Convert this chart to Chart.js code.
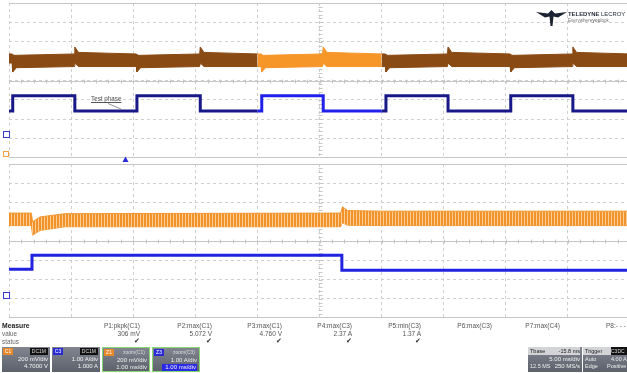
<!DOCTYPE html>
<html>
<head>
<meta charset="utf-8">
<script src="https://cdn.jsdelivr.net/npm/chart.js@4.4.1/dist/chart.umd.min.js"></script>
<style>
    html, body { margin: 0; padding: 0; overflow: hidden; background: #fff; }
    body { width: 627px; height: 373px; position: relative; font-family: "Liberation Sans", Arial, sans-serif; }
    .pane { position: absolute; left: 9px; width: 621px; }
    .abs { position: absolute; white-space: nowrap; }
    .mlabel { font-size: 6.5px; color: #555; text-align: right; }
    .chbox { position: absolute; top: 347px; height: 25px; width: 48px; background: linear-gradient(#80858f, #5c616b); box-sizing: border-box; }
    .chbox.sel { border: 1px solid #86d873; }
    .badge { position: absolute; left: 1px; top: 1px; width: 10px; height: 7px; font-size: 5px; color: #fff; line-height: 7px; text-align: center; }
    .hdr { position: absolute; right: 2px; top: 1px; height: 7px; padding: 0 2px; font-size: 5px; line-height: 7px; color: #ddd; }
    .row { position: absolute; right: 2px; font-size: 6px; color: #f2f2f2; line-height: 7px; }
</style>
</head>
<body>

<div class="pane" style="top:3px;height:155px"><canvas id="topChart" width="621" height="155"></canvas></div>
<div class="pane" style="top:164px;height:154px"><canvas id="zoomChart" width="621" height="154"></canvas></div>

<!-- logo -->
<svg class="abs" style="left:536px;top:10px" width="31" height="16" viewBox="0 0 31 16">
    <polygon points="0,2 12,3.5 15.5,0 19,3.5 31,2 22,7.5 17.5,6.5 16.5,16 14.5,16 13.5,6.5 9,7.5" fill="#1c2433"/>
</svg>
<div class="abs" style="left:568px;top:11px;font-size:5.9px;font-weight:bold;color:#1c2433">TELEDYNE <span style="font-weight:normal">LECROY</span></div>
<div class="abs" style="left:568px;top:18px;font-size:4.6px;color:#777">Everywhere<b>you</b>look</div>

<!-- trace annotation -->
<div class="abs" style="left:91px;top:95px;font-size:6.3px;color:#555;text-decoration:underline">Test phase</div>
<svg class="abs" style="left:0;top:0" width="627" height="373">
    <line x1="108" y1="103.5" x2="121" y2="109" stroke="#777" stroke-width="0.8"/>
    <!-- channel offset markers and trigger marker -->
    <rect x="3.5" y="131.5" width="6" height="6" fill="#fff" stroke="#3a3ad0" stroke-width="1"/>
    <rect x="3.5" y="151.5" width="5" height="5" fill="#fff" stroke="#f0a040" stroke-width="1"/>
    <rect x="3.5" y="292.5" width="6" height="6" fill="#fff" stroke="#3a3ad0" stroke-width="1"/>
    <polygon points="122.5,162 125.5,156.5 128.5,162" fill="#2a2ad8"/>
</svg>

<div id="measure"></div>

<script>
// ---- timebase grid: 10 x 8 divisions, values in divisions ----
const divsX = 10;
const divsY = 4;

// main acquisition, C1 (upper) ripple envelope, in divisions
const topX    = [0, 0.05, 0.06, 0.12, 1.05, 1.06, 1.12, 2.05, 2.06, 2.12, 3.07, 3.08, 3.14, 4.0, 4.06, 4.07, 4.13, 5.05, 5.06, 5.12, 6.0, 6.06, 6.07, 6.13, 7.06, 7.07, 7.13, 8.07, 8.08, 8.14, 9.07, 9.08, 9.14, 10];
const c1TopHi = [1.37, 1.37, 1.3, 1.3, 1.37, 1.73, 1.45, 1.37, 1.3, 1.3, 1.37, 1.73, 1.45, 1.37, 1.37, 1.3, 1.3, 1.37, 1.73, 1.45, 1.37, 1.37, 1.3, 1.3, 1.37, 1.73, 1.45, 1.37, 1.3, 1.3, 1.37, 1.73, 1.45, 1.37];
const c1TopLo = [0.9, 0.9, 0.44, 0.66, 0.72, 0.9, 0.72, 0.72, 0.44, 0.66, 0.72, 0.9, 0.72, 0.72, 0.72, 0.44, 0.66, 0.72, 0.9, 0.72, 0.72, 0.72, 0.44, 0.66, 0.72, 0.9, 0.72, 0.72, 0.44, 0.66, 0.72, 0.9, 0.72, 0.72];

// main acquisition, C3 current step
const c3TopX = [0, 0.06, 1.06, 2.06, 3.08, 4.0, 4.07, 5.06, 6.0, 6.07, 7.07, 8.08, 9.08, 10];
const c3TopY = [-1.57, -0.79, -1.57, -0.79, -1.57, -1.57, -0.79, -1.57, -1.57, -0.79, -1.57, -0.79, -1.57, -1.57];

// span of the main trace shown in the zoom pane
const zoomSpan = [4.0, 6.0];

// zoom pane: Z1 ripple envelope and Z3 step
const zoomX   = [0, 0.36, 0.38, 0.5, 0.9, 5.34, 5.37, 5.45, 6, 10];
const z1Hi    = [1.45, 1.45, 1.0, 1.25, 1.42, 1.45, 1.78, 1.58, 1.55, 1.55];
const z1Lo    = [0.8, 0.8, 0.3, 0.55, 0.74, 0.74, 0.95, 0.82, 0.8, 0.8];
const z3X     = [0, 0.37, 5.36, 10];
const z3Y     = [-1.47, -0.74, -1.52, -1.52];

// measurement table
const measureNames  = ['P1:pkpk(C1)', 'P2:max(C1)', 'P3:max(C1)', 'P4:max(C3)', 'P5:min(C3)', 'P6:max(C3)', 'P7:max(C4)'];
const measureValues = ['306 mV', '5.072 V', '4.760 V', '2.37 A', '1.37 A', '', ''];
const measureRight  = [140, 212, 282, 352, 421, 492, 560];

const BROWN = 'rgb(138,74,20)';
const ORANGE = 'rgb(246,150,40)';
const NAVY = 'rgb(24,24,135)';
const BLUE = 'rgb(32,32,235)';

function pts(xs, ys, from = 0, to = divsX) {
    return xs.map((x, i) => ({ x: x, y: ys[i] })).filter(p => p.x >= from && p.x <= to);
}

function ripplePattern() {
    const c = document.createElement('canvas');
    c.width = 3; c.height = 4;
    const g = c.getContext('2d');
    g.fillStyle = 'rgb(251,206,150)';
    g.fillRect(0, 0, 3, 4);
    g.fillStyle = 'rgb(241,146,42)';
    g.fillRect(0, 0, 2, 4);
    return g.createPattern(c, 'repeat');
}

function band(data, color, fill) {
    return {
        data: data,
        borderColor: color,
        backgroundColor: fill || color,
        borderWidth: 1,
        pointRadius: 0,
        tension: 0
    };
}

// centre lines with fine ticks and solid pane frame
const scopeGrid = {
    id: 'scopeGrid',
    beforeDatasetsDraw(chart) {
        const { ctx, chartArea: a, scales: { x, y } } = chart;
        const seg = (x1, y1, x2, y2) => { ctx.beginPath(); ctx.moveTo(x1, y1); ctx.lineTo(x2, y2); ctx.stroke(); };
        ctx.save();
        ctx.strokeStyle = '#c6c6c6';
        ctx.lineWidth = 1;
        const y0 = Math.round(y.getPixelForValue(0)) + 0.5;
        const x0 = Math.round(x.getPixelForValue(divsX / 2)) + 0.5;
        seg(a.left, y0, a.right, y0);
        seg(a.left, a.top + 0.5, a.right, a.top + 0.5);
        seg(a.left, a.bottom - 0.5, a.right, a.bottom - 0.5);
        for (let i = 0; i <= divsX * 5; i++) {
            const px = Math.round(x.getPixelForValue(i / 5)) + 0.5;
            seg(px, y0 - 2, px, y0 + 2);
        }
        for (let i = 0; i <= divsY * 10; i++) {
            const py = Math.round(y.getPixelForValue(-divsY + i / 5)) + 0.5;
            seg(x0 - 2, py, x0 + 2, py);
        }
        ctx.restore();
    }
};

function scopeOptions() {
    return {
        responsive: false,
        animation: false,
        devicePixelRatio: 1,
        layout: { padding: 0 },
        plugins: { legend: { display: false }, tooltip: { enabled: false } },
        scales: {
            x: {
                type: 'linear', min: 0, max: divsX,
                ticks: { display: false, stepSize: 1 },
                grid: { color: '#cfcfcf', drawTicks: false },
                border: { display: false, dash: [3, 3] }
            },
            y: {
                min: -divsY, max: divsY,
                ticks: { display: false, stepSize: 1 },
                grid: { color: '#cfcfcf', drawTicks: false },
                border: { display: false, dash: [3, 3] }
            }
        }
    };
}

// main acquisition
const topHiA = band(pts(topX, c1TopHi, 0, zoomSpan[0]), BROWN); topHiA.fill = '+1';
const topLoA = band(pts(topX, c1TopLo, 0, zoomSpan[0]), BROWN); topLoA.fill = false;
const topHiB = band(pts(topX, c1TopHi, zoomSpan[0], zoomSpan[1]), ORANGE); topHiB.fill = '+1';
const topLoB = band(pts(topX, c1TopLo, zoomSpan[0], zoomSpan[1]), ORANGE); topLoB.fill = false;
const topHiC = band(pts(topX, c1TopHi, zoomSpan[1], divsX), BROWN); topHiC.fill = '+1';
const topLoC = band(pts(topX, c1TopLo, zoomSpan[1], divsX), BROWN); topLoC.fill = false;

new Chart(document.getElementById('topChart'), {
    type: 'line',
    data: {
        datasets: [topHiA, topLoA, topHiB, topLoB, topHiC, topLoC, {
            data: pts(c3TopX, c3TopY),
            stepped: true,
            borderColor: NAVY,
            borderWidth: 3,
            pointRadius: 0,
            fill: false,
            segment: {
                borderColor: ctx => (ctx.p0.parsed.x >= zoomSpan[0] && ctx.p0.parsed.x < zoomSpan[1]) ? BLUE : NAVY
            }
        }]
    },
    options: scopeOptions(),
    plugins: [scopeGrid]
});

// zoom pane
const ripple = ripplePattern();
const zHi = band(pts(zoomX, z1Hi), 'rgb(241,150,48)', ripple); zHi.fill = '+1';
const zLo = band(pts(zoomX, z1Lo), 'rgb(241,150,48)'); zLo.fill = false;

new Chart(document.getElementById('zoomChart'), {
    type: 'line',
    data: {
        datasets: [zHi, zLo, {
            data: pts(z3X, z3Y),
            stepped: true,
            borderColor: 'rgb(34,34,225)',
            borderWidth: 3,
            pointRadius: 0,
            fill: false
        }]
    },
    options: scopeOptions(),
    plugins: [scopeGrid]
});

// measurement table and channel descriptors
(function buildPanel() {
    const root = document.getElementById('measure');
    let html = '';
    html += '<div class="abs" style="left:2px;top:322px;font-size:6.8px;font-weight:bold;color:#222">Measure</div>';
    html += '<div class="abs" style="left:2px;top:330px;font-size:6.3px;color:#666">value</div>';
    html += '<div class="abs" style="left:2px;top:338px;font-size:6.3px;color:#666">status</div>';
    measureNames.forEach((name, i) => {
        const r = 627 - measureRight[i];
        html += `<div class="abs mlabel" style="right:${r}px;top:322px">${name}</div>`;
        if (measureValues[i]) {
            html += `<div class="abs mlabel" style="right:${r}px;top:330px">${measureValues[i]}</div>`;
            html += `<div class="abs mlabel" style="right:${r}px;top:337px;font-size:7px;color:#333">&#10004;</div>`;
        }
    });
    html += '<div class="abs mlabel" style="left:606px;top:322px;text-align:left">P8:- - -</div>';

    const boxes = [
        { left: 2,   badge: 'C1', bc: '#e8892c', hdr: 'DC1M', sel: false, r1: '200 mV/div', r2: '4.7000 V' },
        { left: 52,  badge: 'C3', bc: '#2b2bd6', hdr: 'DC1M', sel: false, r1: '1.00 A/div', r2: '1.000 A' },
        { left: 102, badge: 'Z1', bc: '#e8892c', hdr: 'zoom(C1)', sel: true, r1: '200 mV/div', r2: '1.00 ms/div' },
        { left: 152, badge: 'Z3', bc: '#2b2bd6', hdr: 'zoom(C3)', sel: true, r1: '1.00 A/div', r2: '1.00 ms/div', hi: true }
    ];
    boxes.forEach(b => {
        const hdrBg = b.sel ? 'transparent' : '#111';
        const r2Style = b.hi ? 'background:#2a2ae6;left:9px;text-align:right;padding-right:1px' : '';
        html += `<div class="chbox${b.sel ? ' sel' : ''}" style="left:${b.left}px">
            <div class="badge" style="background:${b.bc}">${b.badge}</div>
            <div class="hdr" style="background:${hdrBg}">${b.hdr}</div>
            <div class="row" style="top:9px">${b.r1}</div>
            <div class="row" style="top:16px;${r2Style}">${b.r2}</div>
        </div>`;
    });

    // timebase and trigger
    html += `<div class="chbox" style="left:528px;width:54px">
        <div class="abs" style="left:0;top:0;width:52px;height:8px;background:#d2d4d8"></div>
        <div class="abs" style="left:2px;top:1px;font-size:5.5px;color:#222">Tbase</div>
        <div class="abs" style="right:2px;top:1px;font-size:5.5px;color:#222">-15.8 ms</div>
        <div class="row" style="top:9px">5.00 ms/div</div>
        <div class="abs" style="left:2px;top:16px;font-size:5.5px;color:#eee">12.5 MS</div>
        <div class="row" style="top:16px">250 MS/s</div>
    </div>`;
    html += `<div class="chbox" style="left:583px;width:48px">
        <div class="abs" style="left:0;top:0;width:46px;height:8px;background:#d2d4d8"></div>
        <div class="abs" style="left:2px;top:1px;font-size:5.5px;color:#222">Trigger</div>
        <div class="abs" style="left:28px;top:0;width:16px;height:8px;background:#111;font-size:5px;color:#ddd;line-height:8px">C3DC</div>
        <div class="abs" style="left:2px;top:9px;font-size:5.5px;color:#eee">Auto</div>
        <div class="abs" style="left:28px;top:9px;font-size:5.5px;color:#eee">4.00 A</div>
        <div class="abs" style="left:2px;top:16px;font-size:5.5px;color:#eee">Edge</div>
        <div class="abs" style="left:24px;top:16px;font-size:5.5px;color:#eee">Positive</div>
    </div>`;
    root.innerHTML = html;
})();
</script>
</body>
</html>
